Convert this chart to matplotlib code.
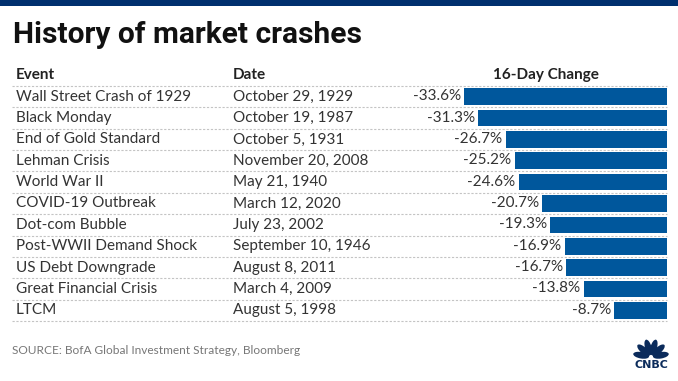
import matplotlib
matplotlib.use("Agg")
import matplotlib.pyplot as plt
from matplotlib.patches import Rectangle, Ellipse
import numpy as np

events = ["Wall Street Crash of 1929", "Black Monday", "End of Gold Standard",
          "Lehman Crisis", "World War II", "COVID-19 Outbreak", "Dot-com Bubble",
          "Post-WWII Demand Shock", "US Debt Downgrade", "Great Financial Crisis", "LTCM"]
dates = ["October 29, 1929", "October 19, 1987", "October 5, 1931", "November 20, 2008",
         "May 21, 1940", "March 12, 2020", "July 23, 2002", "September 10, 1946",
         "August 8, 2011", "March 4, 2009", "August 5, 1998"]
changes = [-33.6, -31.3, -26.7, -25.2, -24.6, -20.7, -19.3, -16.9, -16.7, -13.8, -8.7]

W, H = 678, 381
fig = plt.figure(figsize=(W / 100, H / 100), dpi=100)
ax = fig.add_axes([0, 0, 1, 1])
ax.set_xlim(0, W)
ax.set_ylim(H, 0)
ax.axis("off")

FONT = "Lato"
txt = "#333333"
FS = 11

# top navy band
ax.add_patch(Rectangle((0, 0), W, 6, color="#00306E", lw=0))

ax.text(13, 35, "History of market crashes", fontsize=21.5, fontweight="bold",
        family="Roboto", color="#111111", va="center", ha="left")

# headers
hy = 75
ax.text(16, hy, "Event", fontsize=FS, fontweight="bold", family=FONT, color="#222222", va="center")
ax.text(233, hy, "Date", fontsize=FS, fontweight="bold", family=FONT, color="#222222", va="center")
ax.text(546, hy, "16-Day Change", fontsize=FS, fontweight="bold", family=FONT, color="#222222",
        va="center", ha="center")

n = len(events)
top, step = 86, 21.36
for k in range(n + 1):
    yy = top + k * step
    ax.plot([12, 667], [yy, yy], color="#c4c4c4", lw=0.8, ls=(0, (2, 1.5)))

for i, (e, d) in enumerate(zip(events, dates)):
    yc = top + (i + 0.5) * step
    ax.text(16, yc, e, fontsize=FS, family=FONT, color=txt, va="center")
    ax.text(233, yc, d, fontsize=FS, family=FONT, color=txt, va="center")

# bar axes
x0, x1 = 380, 666.7
scale = (666.7 - 464.3) / 33.6
bx = fig.add_axes([x0 / W, 1 - (top + n * step) / H, (x1 - x0) / W, n * step / H])
bx.set_xlim(-(x1 - x0) / scale, 0)
bx.set_ylim(n - 0.5, -0.5)
bx.axis("off")
bx.patch.set_alpha(0)
ys = list(range(n))
bx.barh(ys, changes, height=0.78, color="#00579C", lw=0)
for y, v in zip(ys, changes):
    bx.text(v - 0.55, y - 0.02, f"{v:.1f}%", fontsize=FS, family=FONT, color=txt,
            va="center", ha="right")

ax.text(12, 350, "SOURCE: BofA Global Investment Strategy, Bloomberg", fontsize=8.6,
        family=FONT, color="#777777", va="center")

# CNBC peacock approximation
cx, cy = 651, 357
navy = "#0B2B5B"
for ang in np.linspace(10, 170, 6):
    r = np.deg2rad(ang)
    ex, ey = cx + 10 * np.cos(r), cy - 10 * np.sin(r)
    ax.add_patch(Ellipse((ex, ey), 6.5, 16, angle=90 - ang, color=navy, lw=0))
ax.text(cx, 364.5, "CNBC", fontsize=8, fontweight="heavy", family="DejaVu Sans",
        color=navy, ha="center", va="center")

fig.savefig("out.png", dpi=100)
